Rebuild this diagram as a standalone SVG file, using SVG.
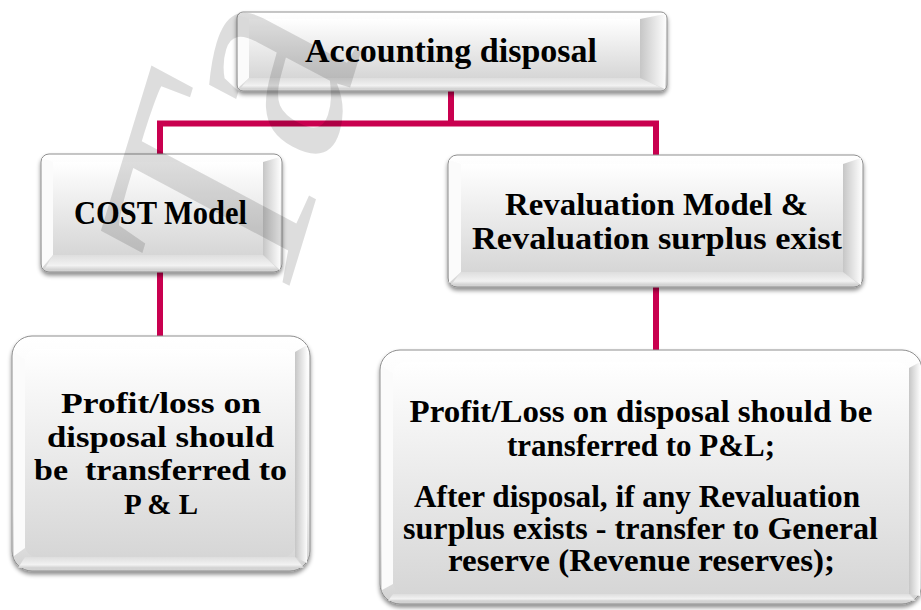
<svg xmlns="http://www.w3.org/2000/svg" width="921" height="610" viewBox="0 0 921 610">
  <defs>
    <linearGradient id="gOuter" x1="0" y1="0" x2="0" y2="1">
      <stop offset="0" stop-color="#ffffff"/>
      <stop offset="0.75" stop-color="#ececec"/>
      <stop offset="1" stop-color="#d2d2d2"/>
    </linearGradient>
    <linearGradient id="gFace" x1="0" y1="0" x2="0" y2="1">
      <stop offset="0" stop-color="#ffffff"/>
      <stop offset="1" stop-color="#d6d6d6"/>
    </linearGradient>
    <linearGradient id="gRight" x1="0" y1="0" x2="1" y2="0">
      <stop offset="0" stop-color="#c6c6c6"/>
      <stop offset="1" stop-color="#fbfbfb"/>
    </linearGradient>
    <linearGradient id="gBottom" x1="0" y1="0" x2="0" y2="1">
      <stop offset="0" stop-color="#dedede"/>
      <stop offset="0.7" stop-color="#f2f2f2"/>
      <stop offset="1" stop-color="#d0d0d0"/>
    </linearGradient>
    <filter id="shadow" x="-10%" y="-10%" width="120%" height="130%">
      <feDropShadow dx="0" dy="3" stdDeviation="2.2" flood-color="#000" flood-opacity="0.45"/>
    </filter>
  </defs>
  <style>
    .outer { fill: url(#gOuter); stroke: #8e8e8e; stroke-width: 1; filter: url(#shadow); }
    .face { fill: url(#gFace); }
    .bev-r { fill: url(#gRight); }
    .bev-b { fill: url(#gBottom); }
    .bev-l { fill: #fbfbfb; }
    .lbl { font-family: "Liberation Serif", "Times New Roman", serif; font-weight: bold; fill: #000; text-anchor: middle; }
    .wire { fill: none; stroke: #c9004f; stroke-width: 6; stroke-linejoin: miter; stroke-linecap: butt; }
    .mark { font-family: "Liberation Serif", serif; font-size: 300px; fill: #000; opacity: 0.13; }
  </style>

  <rect width="921" height="610" fill="#ffffff"/>

  <!-- connectors -->
  <g id="connectors">
    <path class="wire" d="M451,91 V123.5"/>
    <path class="wire" d="M160,154 V123.5 H656 V155"/>
    <path class="wire" d="M160,272 V336"/>
    <path class="wire" d="M656,287 V350"/>
  </g>

  <!-- root -->
  <g id="node-accounting-disposal">
    <rect class="outer" x="237" y="12" width="430" height="79" rx="6"/>
    <polygon class="bev-l" points="238,15 249,19 249,78 238,88"/>
    <polygon class="bev-b" points="249,78 640,78 664,89 240,89"/>
    <polygon class="bev-r" points="640,19 665,14 665,89 640,78"/>
    <rect class="face" x="249" y="19" width="391" height="59"/>
    <text class="lbl" x="451" y="62" font-size="33" textLength="292" lengthAdjust="spacingAndGlyphs">Accounting disposal</text>
  </g>

  <!-- first branch -->
  <g id="node-cost-model">
    <rect class="outer" x="41" y="154" width="241" height="118" rx="8"/>
    <polygon class="bev-l" points="42,158 53,162 53,255 42,268"/>
    <polygon class="bev-b" points="53,255 263,255 279,270 44,270"/>
    <polygon class="bev-r" points="263,162 280,157 280,270 263,255"/>
    <rect class="face" x="53" y="162" width="210" height="93"/>
    <text class="lbl" x="160.5" y="224" font-size="33" textLength="173" lengthAdjust="spacingAndGlyphs">COST Model</text>
  </g>

  <!-- second branch -->
  <g id="node-revaluation-model">
    <rect class="outer" x="448" y="155" width="415" height="132" rx="9"/>
    <polygon class="bev-l" points="449,160 461,164 461,272 449,283"/>
    <polygon class="bev-b" points="461,272 843,272 860,285 451,285"/>
    <polygon class="bev-r" points="843,164 861,158 861,285 843,272"/>
    <rect class="face" x="461" y="164" width="382" height="108"/>
    <text class="lbl" x="656.5" y="215" font-size="31" textLength="303" lengthAdjust="spacingAndGlyphs">Revaluation Model &amp;</text>
    <text class="lbl" x="657" y="249" font-size="31" textLength="370" lengthAdjust="spacingAndGlyphs">Revaluation surplus exist</text>
  </g>

  <!-- outcome of first branch -->
  <g id="node-cost-outcome">
    <rect class="outer" x="12" y="336" width="298" height="235" rx="20"/>
    <path class="bev-l" d="M14,352 L25,360 L25,548 L14,556 Z"/>
    <path class="bev-b" d="M25,557 H295 L304,568 H18 Z"/>
    <path class="bev-r" d="M295,352 L307,345 L307,563 L295,557 Z"/>
    <rect class="face" x="25" y="349" width="270" height="208" rx="12"/>
    <text class="lbl" x="161" y="413" font-size="30" textLength="200" lengthAdjust="spacingAndGlyphs">Profit/loss on</text>
    <text class="lbl" x="160.5" y="447" font-size="30" textLength="227" lengthAdjust="spacingAndGlyphs">disposal should</text>
    <text class="lbl" x="160.5" y="480" font-size="30" textLength="253" lengthAdjust="spacingAndGlyphs" style="white-space:pre">be  transferred to</text>
    <text class="lbl" x="161" y="514" font-size="30" textLength="74" lengthAdjust="spacingAndGlyphs">P &amp; L</text>
  </g>

  <!-- outcome of second branch -->
  <g id="node-revaluation-outcome">
    <rect class="outer" x="380" y="350" width="542" height="254" rx="20"/>
    <path class="bev-l" d="M382,366 L393,374 L393,584 L382,590 Z"/>
    <path class="bev-b" d="M393,594 H909 L916,601 H388 Z"/>
    <path class="bev-r" d="M909,368 L920,362 L920,596 L909,594 Z"/>
    <rect class="face" x="393" y="362" width="516" height="232" rx="12"/>
    <text class="lbl" x="641" y="422" font-size="31" textLength="463" lengthAdjust="spacingAndGlyphs">Profit/Loss on disposal should be</text>
    <text class="lbl" x="641" y="456" font-size="31" textLength="268" lengthAdjust="spacingAndGlyphs">transferred to P&amp;L;</text>
    <text class="lbl" x="637" y="507" font-size="31" textLength="446" lengthAdjust="spacingAndGlyphs">After disposal, if any Revaluation</text>
    <text class="lbl" x="640.5" y="539" font-size="31" textLength="475" lengthAdjust="spacingAndGlyphs">surplus exists - transfer to General</text>
    <text class="lbl" x="641.5" y="571" font-size="31" textLength="387" lengthAdjust="spacingAndGlyphs">reserve (Revenue reserves);</text>
  </g>

  <!-- faint diagonal watermark lettering -->
  <text class="mark" transform="translate(276,330) rotate(-73) skewX(-11)">Ta</text>
</svg>
